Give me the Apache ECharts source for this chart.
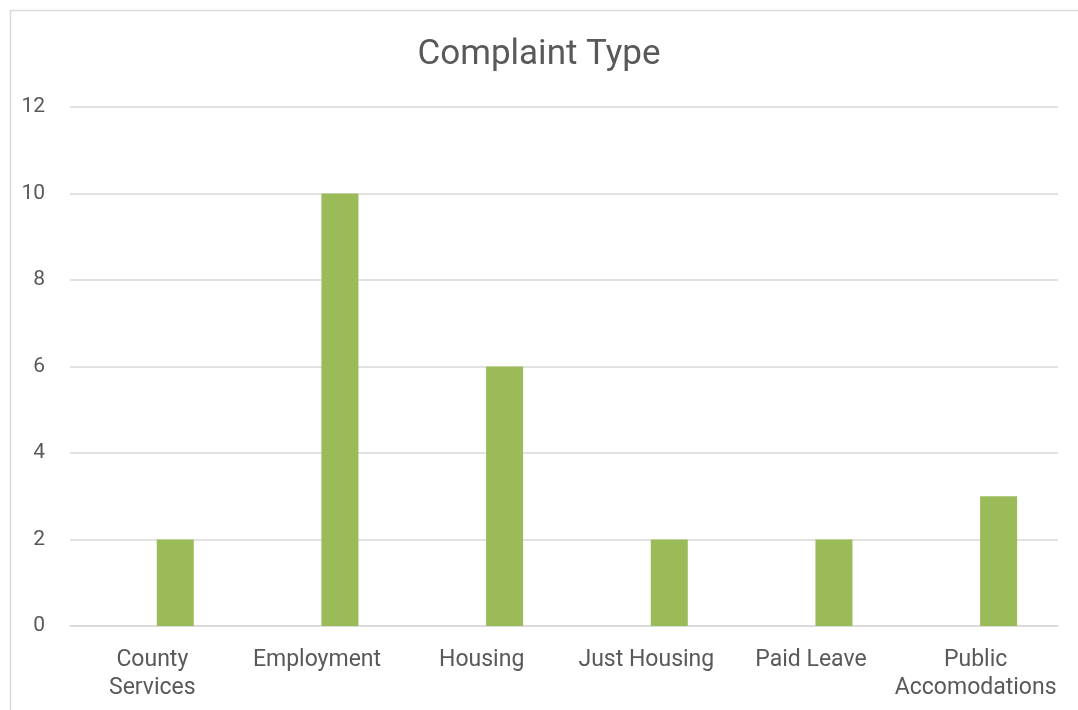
<!DOCTYPE html>
<html>
<head>
<meta charset="utf-8">
<script src="https://cdn.jsdelivr.net/npm/echarts@6/dist/echarts.min.js"></script>
<style>
html,body{margin:0;padding:0;background:#fff;}
#c{width:1078px;height:710px;}
</style>
</head>
<body>
<div id="c"></div>
<script>
const categories = ["County\nServices", "Employment", "Housing", "Just Housing", "Paid Leave", "Public\nAccomodations"];
const values = [2, 10, 6, 2, 2, 3];
const titleText = "Complaint Type";

const chart = echarts.init(document.getElementById('c'), null, {renderer: 'canvas'});
const font = 'Roboto, "Liberation Sans", sans-serif';
chart.setOption({
  backgroundColor: '#fff',
  animation: false,
  graphic: [{
    type: 'rect', left: 8, top: 8, silent: true, z: -1,
    shape: {width: 1100, height: 720},
    style: {fill: 'none', stroke: '#d9d9d9', lineWidth: 1.5}
  }],
  title: {
    text: titleText, left: 'center', top: 33,
    textStyle: {fontFamily: font, fontSize: 35, fontWeight: 'normal', color: '#595959'}
  },
  grid: {left: 70, right: 20, top: 107, bottom: 84, containLabel: false},
  xAxis: {
    type: 'category', data: categories,
    axisLine: {lineStyle: {color: '#d9d9d9', width: 1.5}},
    axisTick: {show: false},
    axisLabel: {fontFamily: font, fontSize: 23, color: '#595959', margin: 20, lineHeight: 28, interval: 0}
  },
  yAxis: {
    type: 'value', min: 0, max: 12, interval: 2,
    axisLine: {show: false}, axisTick: {show: false},
    splitLine: {lineStyle: {color: '#d9d9d9', width: 1.5}},
    axisLabel: {fontFamily: font, fontSize: 21, color: '#595959', margin: 25}
  },
  series: [
    {type: 'bar', name: '', data: [], barWidth: 37, barGap: '24%'},
    {type: 'bar', name: 'Complaints', data: values, barWidth: 37, barGap: '24%',
     itemStyle: {color: '#9bbb59'}}
  ]
});
</script>
</body>
</html>
